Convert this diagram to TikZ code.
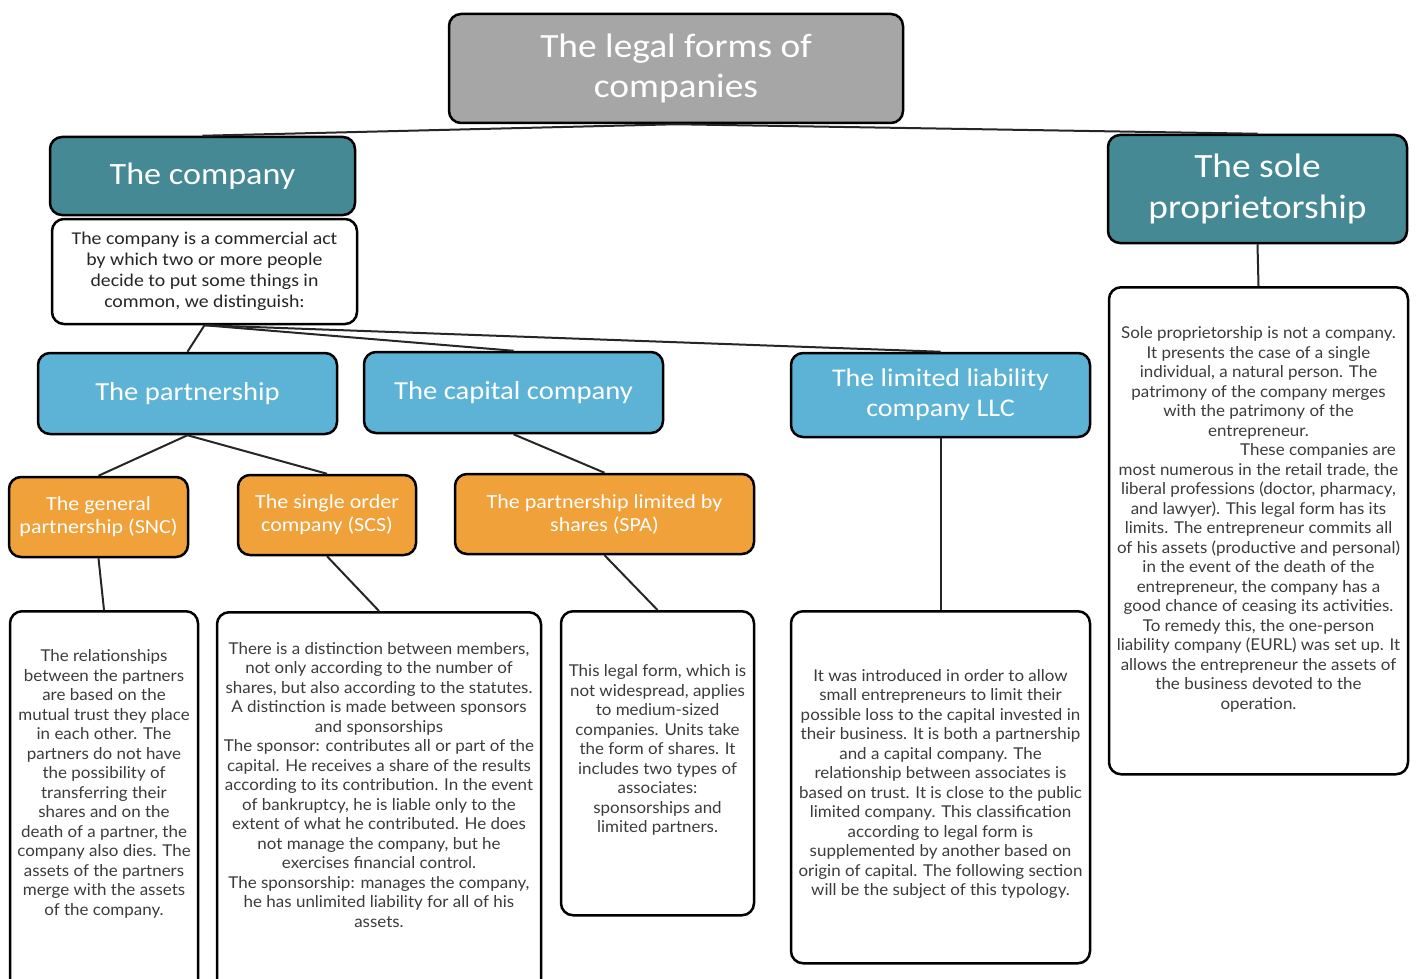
\documentclass[tikz,border=0pt]{standalone}
\usepackage{fontspec}
\setmainfont{Carlito}[FakeStretch=1.1]
\newfontfamily\notefont{Lato}[FakeStretch=1.04]
\usepackage{xcolor}
\usepackage{tikz}
\usetikzlibrary{shapes,positioning}

\definecolor{titlegray}{RGB}{166,166,166}
\definecolor{tealbox}{RGB}{68,137,148}
\definecolor{bluebox}{RGB}{92,179,214}
\definecolor{orangebox}{RGB}{240,161,58}
\definecolor{textgray}{RGB}{60,60,60}

\begin{document}
\begin{tikzpicture}[x=1pt,y=-1pt,
    head/.style={draw=black, line width=2.5pt, rounded corners=12pt, text=white, align=center, inner sep=0pt},
    note/.style={draw=black, line width=2.5pt, rounded corners=12pt, fill=white, inner sep=0pt},
    notetext/.style={text=textgray, align=center, font=\notefont\fontsize{16.3}{19.5}\selectfont},
    link/.style={line width=2pt, draw=black!85}]
    \useasboundingbox (0,0) rectangle (1416,979);

    % Top levels
    \node[head, fill=titlegray, minimum width=454pt, minimum height=109pt, font=\fontsize{34}{40}\selectfont] (legal) at (676,68.5) {The legal forms of\\companies};
    \node[head, fill=tealbox, minimum width=305pt, minimum height=78pt, font=\fontsize{31}{40}\selectfont] (company) at (202.5,176) {The company};
    \node[note, minimum width=305pt, minimum height=105pt, align=center, text=black!85, font=\fontsize{18}{21}\selectfont] (companydef) at (204.5,271.5) {The company is a commercial act\\by which two or more people\\decide to put some things in\\common, we distinguish:};
    \node[head, fill=tealbox, minimum width=299pt, minimum height=108pt, font=\fontsize{34}{41}\selectfont] (sole) at (1257.5,189) {The sole\\proprietorship};

    % Kinds of company
    \node[head, fill=bluebox, minimum width=299pt, minimum height=81pt, font=\fontsize{26}{30}\selectfont] (partner) at (187.5,393.5) {The partnership};
    \node[head, fill=bluebox, minimum width=299pt, minimum height=81pt, font=\fontsize{26}{30}\selectfont] (capital) at (513.5,392.5) {The capital company};
    \node[head, fill=bluebox, minimum width=299pt, minimum height=84pt, font=\fontsize{25.5}{30}\selectfont] (llc) at (940.5,395) {The limited liability\\company LLC};

    \node[head, fill=orangebox, minimum width=179pt, minimum height=80pt, font=\fontsize{20}{23}\selectfont] (snc) at (98.5,517) {The general\\partnership (SNC)};
    \node[head, fill=orangebox, minimum width=178pt, minimum height=80pt, font=\fontsize{20}{23}\selectfont] (scs) at (327,515) {The single order\\company (SCS)};
    \node[head, fill=orangebox, minimum width=299pt, minimum height=80pt, font=\fontsize{20}{23}\selectfont] (spa) at (604.5,514) {The partnership limited by\\shares (SPA)};

    % Notes
    \node[note, minimum width=188pt, minimum height=400pt, anchor=north] (sncnote) at (104,610) {};
    \node[notetext] (sncnotetext) at (104,784) {The relationships\\between the partners\\are based on the\\mutual trust they place\\in each other. The\\partners do not have\\the possibility of\\transferring their\\shares and on the\\death of a partner, the\\company also dies. The\\assets of the partners\\merge with the assets\\of the company.};

    \node[note, minimum width=324pt, minimum height=400pt, anchor=north] (scsnote) at (379,611) {};
    \node[notetext] (scsnotetext) at (379,785) {There is a distinction between members,\\not only according to the number of\\shares, but also according to the statutes.\\A distinction is made between sponsors\\and sponsorships\\The sponsor: contributes all or part of the\\capital. He receives a share of the results\\according to its contribution. In the event\\of bankruptcy, he is liable only to the\\extent of what he contributed. He does\\not manage the company, but he\\exercises financial control.\\The sponsorship: manages the company,\\he has unlimited liability for all of his\\assets.};

    \node[note, minimum width=193pt, minimum height=304pt, anchor=north] (spanote) at (657.5,610) {};
    \node[notetext] (spanotetext) at (657.5,750) {This legal form, which is\\not widespread, applies\\to medium-sized\\companies. Units take\\the form of shares. It\\includes two types of\\associates:\\sponsorships and\\limited partners.};

    \node[note, minimum width=299pt, minimum height=352pt, anchor=north] (llcnote) at (940.5,610) {};
    \node[notetext] (llcnotetext) at (940.5,784) {It was introduced in order to allow\\small entrepreneurs to limit their\\possible loss to the capital invested in\\their business. It is both a partnership\\and a capital company. The\\relationship between associates is\\based on trust. It is close to the public\\limited company. This classification\\according to legal form is\\supplemented by another based on\\origin of capital. The following section\\will be the subject of this typology.};

    \node[note, minimum width=299pt, minimum height=487pt, anchor=north] (solenote) at (1258.5,286) {};
    \node[notetext] (solenotetext) at (1258.5,519.5) {Sole proprietorship is not a company.\\It presents the case of a single\\individual, a natural person. The\\patrimony of the company merges\\with the patrimony of the\\entrepreneur.\\\hfill These companies are\\most numerous in the retail trade, the\\liberal professions (doctor, pharmacy,\\and lawyer). This legal form has its\\limits. The entrepreneur commits all\\of his assets (productive and personal)\\in the event of the death of the\\entrepreneur, the company has a\\good chance of ceasing its activities.\\To remedy this, the one-person\\liability company (EURL) was set up. It\\allows the entrepreneur the assets of\\the business devoted to the\\operation.};

    % Links
    \draw[link] (company.north) -- (legal.south) -- (sole.north);
    \draw[link] (companydef.south) -- (partner.north);
    \draw[link] (companydef.south) -- (capital.north);
    \draw[link] (companydef.south) -- (llc.north);
    \draw[link] (partner.south) -- (snc.north);
    \draw[link] (partner.south) -- (scs.north);
    \draw[link] (capital.south) -- (spa.north);
    \draw[link] (snc.south) -- (sncnote.north);
    \draw[link] (scs.south) -- (scsnote.north);
    \draw[link] (spa.south) -- (spanote.north);
    \draw[link] (llc.south) -- (llcnote.north);
    \draw[link] (sole.south) -- (solenote.north);
\end{tikzpicture}
\end{document}
